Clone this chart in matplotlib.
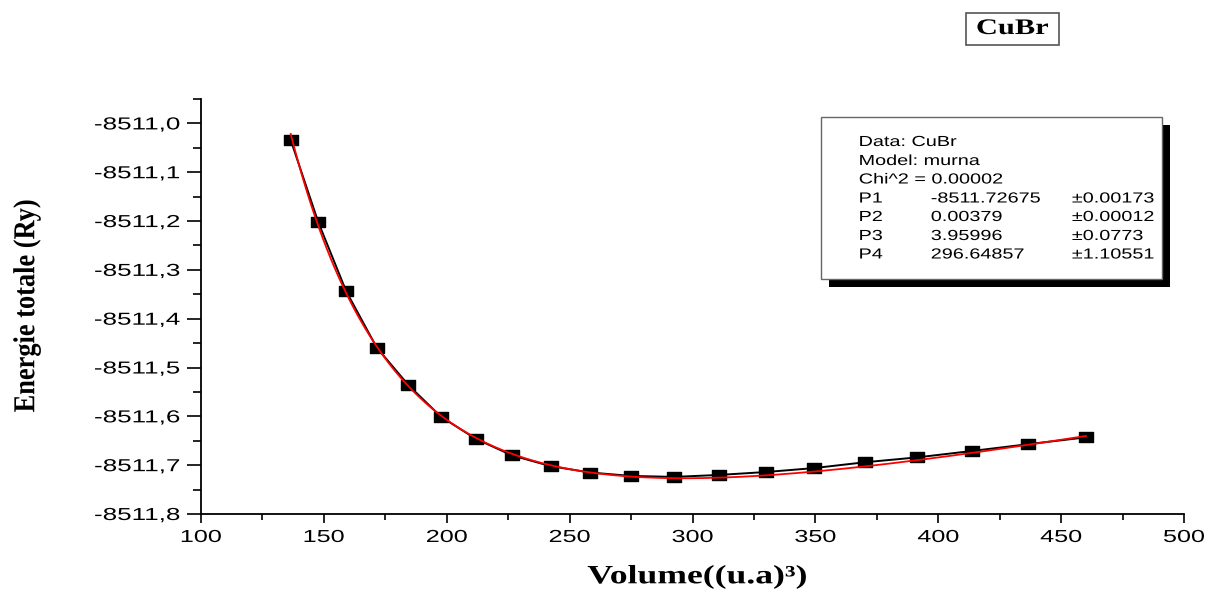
import numpy as np
import matplotlib
matplotlib.use("Agg")
import matplotlib.pyplot as plt
from matplotlib.patheffects import AbstractPathEffect
from matplotlib.transforms import Affine2D
from matplotlib.patches import Rectangle
from matplotlib.path import Path
from matplotlib.ticker import MultipleLocator, FuncFormatter

# E(V) points for CuBr
volume = [136.5, 147.7, 159.1, 171.5, 184.4, 197.7, 211.8, 226.6, 242.3, 258.3,
          274.9, 292.5, 310.8, 329.9, 349.4, 370.2, 391.5, 413.6, 436.6, 460.1]
energy = [-8511.034, -8511.202, -8511.344, -8511.459, -8511.536, -8511.601,
          -8511.646, -8511.680, -8511.702, -8511.715, -8511.722, -8511.724,
          -8511.720, -8511.714, -8511.706, -8511.694, -8511.684, -8511.671,
          -8511.657, -8511.643]

# Murnaghan fit results: E0, B, B', V0
param_names = ["P1", "P2", "P3", "P4"]
param_values = [-8511.72675, 0.00379, 3.95996, 296.64857]
param_errors = [0.00173, 0.00012, 0.0773, 1.10551]
param_text = ["-8511.72675", "0.00379", "3.95996", "296.64857"]
error_text = ["\u00b10.00173", "\u00b10.00012", "\u00b10.0773", "\u00b11.10551"]
chi2_text = "0.00002"

x_ticks = [100, 150, 200, 250, 300, 350, 400, 450, 500]
y_ticks = [-8511.8, -8511.7, -8511.6, -8511.5, -8511.4, -8511.3, -8511.2, -8511.1, -8511.0]

W, H = 1211, 592


class WideGlyphs(AbstractPathEffect):
    """Stretch glyph outlines horizontally about a chosen anchor."""

    def __init__(self, sx, anchor="center"):
        super().__init__()
        self.sx = sx
        self.anchor = anchor

    def draw_path(self, renderer, gc, tpath, affine, rgbFace=None):
        if len(tpath.vertices) == 0:
            return
        ext = tpath.get_extents(affine)
        if self.anchor == "left":
            ax0 = ext.x0
        elif self.anchor == "right":
            ax0 = ext.x1
        else:
            ax0 = 0.5 * (ext.x0 + ext.x1)
        t = affine + Affine2D().translate(-ax0, 0).scale(self.sx, 1).translate(ax0, 0)
        renderer.draw_path(gc, tpath, t, rgbFace)


def murnaghan(v, e0, b, bp, v0):
    v = np.asarray(v, dtype=float)
    return e0 + b * v / bp * ((v0 / v) ** bp / (bp - 1) + 1) - b * v0 / (bp - 1)


def fx(px):
    return px / W


def fy(py):
    return 1 - py / H


SANS = "Liberation Sans"
SERIF = "Liberation Serif"

fig = plt.figure(figsize=(W / 100, H / 100), dpi=100)
fig.patch.set_facecolor("white")

ax = fig.add_axes([fx(201), fy(514), (1184 - 201) / W, (514 - 99) / H])
ax.set_xlim(100, 500)
ax.set_ylim(-8511.8, -8510.95)

# Data with connecting line
square = Path([(-1.5, -1), (1.5, -1), (1.5, 1), (-1.5, 1), (-1.5, -1)],
              [Path.MOVETO, Path.LINETO, Path.LINETO, Path.LINETO, Path.CLOSEPOLY])
ax.plot(volume, energy, color="black", lw=1.4, marker=square, ms=10.5,
        mfc="black", mec="black", zorder=2)

# Fitted Murnaghan curve
v_fit = np.linspace(volume[0], volume[-1], 400)
ax.plot(v_fit, murnaghan(v_fit, *param_values), color="#ff0000", lw=1.3, zorder=3)

for side in ("top", "right"):
    ax.spines[side].set_visible(False)
for side in ("left", "bottom"):
    ax.spines[side].set_linewidth(1.3)

ax.xaxis.set_major_locator(MultipleLocator(50))
ax.xaxis.set_minor_locator(MultipleLocator(25))
ax.yaxis.set_major_locator(MultipleLocator(0.1))
ax.yaxis.set_minor_locator(MultipleLocator(0.05))
ax.yaxis.set_major_formatter(FuncFormatter(lambda v, p: f"{v:.1f}".replace(".", ",")))
ax.xaxis.set_major_formatter(FuncFormatter(lambda v, p: f"{v:.0f}"))

ax.tick_params(axis="y", which="major", direction="out", length=10, width=1.2, pad=5,
               labelsize=12.5)
ax.tick_params(axis="y", which="minor", direction="out", length=5.5, width=1.2)
ax.tick_params(axis="x", which="major", direction="out", length=6.5, width=1.2, pad=5,
               labelsize=12.5)
ax.tick_params(axis="x", which="minor", direction="out", length=4, width=1.2)

for lab in ax.get_xticklabels() + ax.get_yticklabels():
    lab.set_fontfamily(SANS)

# Axis titles
fig.text(fx(697), fy(577), "Volume((u.a)\u00b3)", ha="center", va="center",
         fontsize=19, fontweight="bold", family=SERIF,
         path_effects=[WideGlyphs(1.35, "center")])
fig.text(fx(27), fy(306), "Energie totale (Ry)", ha="center", va="center",
         rotation=90, fontsize=19, fontweight="bold", family=SERIF,
         path_effects=[WideGlyphs(1.15, "center")])

# Compound label in a framed box
fig.add_artist(Rectangle((fx(966), fy(45)), (1059 - 966) / W, (45 - 13) / H,
                         transform=fig.transFigure, facecolor="white",
                         edgecolor="#555555", lw=1.2))
fig.text(fx(1012.5), fy(29), "CuBr", ha="center", va="center", fontsize=16,
         fontweight="bold", family=SERIF, path_effects=[WideGlyphs(1.37, "center")])

# Fit summary panel with drop shadow
bx0, by0, bx1, by1 = 821, 117, 1162, 279
fig.add_artist(Rectangle((fx(bx0 + 8), fy(by1 + 8)), (bx1 - bx0) / W, (by1 - by0) / H,
                         transform=fig.transFigure, facecolor="black",
                         edgecolor="none", zorder=5))
fig.add_artist(Rectangle((fx(bx0), fy(by1)), (bx1 - bx0) / W, (by1 - by0) / H,
                         transform=fig.transFigure, facecolor="white",
                         edgecolor="#666666", lw=1.0, zorder=6))

rows_y = [142, 161, 179.5, 198.5, 217, 236, 254.5]
info_lines = ["Data: CuBr", "Model: murna", "Chi^2 = " + chi2_text]
stretch = [WideGlyphs(1.36, "left")]
for yy, txt in zip(rows_y[:3], info_lines):
    fig.text(fx(859), fy(yy), txt, ha="left", va="center", fontsize=10.5,
             family=SANS, path_effects=stretch, zorder=7)
for yy, nm, val, err in zip(rows_y[3:], param_names, param_text, error_text):
    fig.text(fx(859), fy(yy), nm, ha="left", va="center", fontsize=10.5,
             family=SANS, path_effects=stretch, zorder=7)
    fig.text(fx(931), fy(yy), val, ha="left", va="center", fontsize=10.5,
             family=SANS, path_effects=stretch, zorder=7)
    fig.text(fx(1072), fy(yy), err, ha="left", va="center", fontsize=10.5,
             family=SANS, path_effects=stretch, zorder=7)

# Widen tick labels once the tick set is final
fig.canvas.draw()
for lab in ax.get_yticklabels():
    lab.set_path_effects([WideGlyphs(1.5, "right")])
for lab in ax.get_xticklabels():
    lab.set_path_effects([WideGlyphs(1.45, "center")])

fig.savefig("out.png", dpi=100, facecolor="white")
